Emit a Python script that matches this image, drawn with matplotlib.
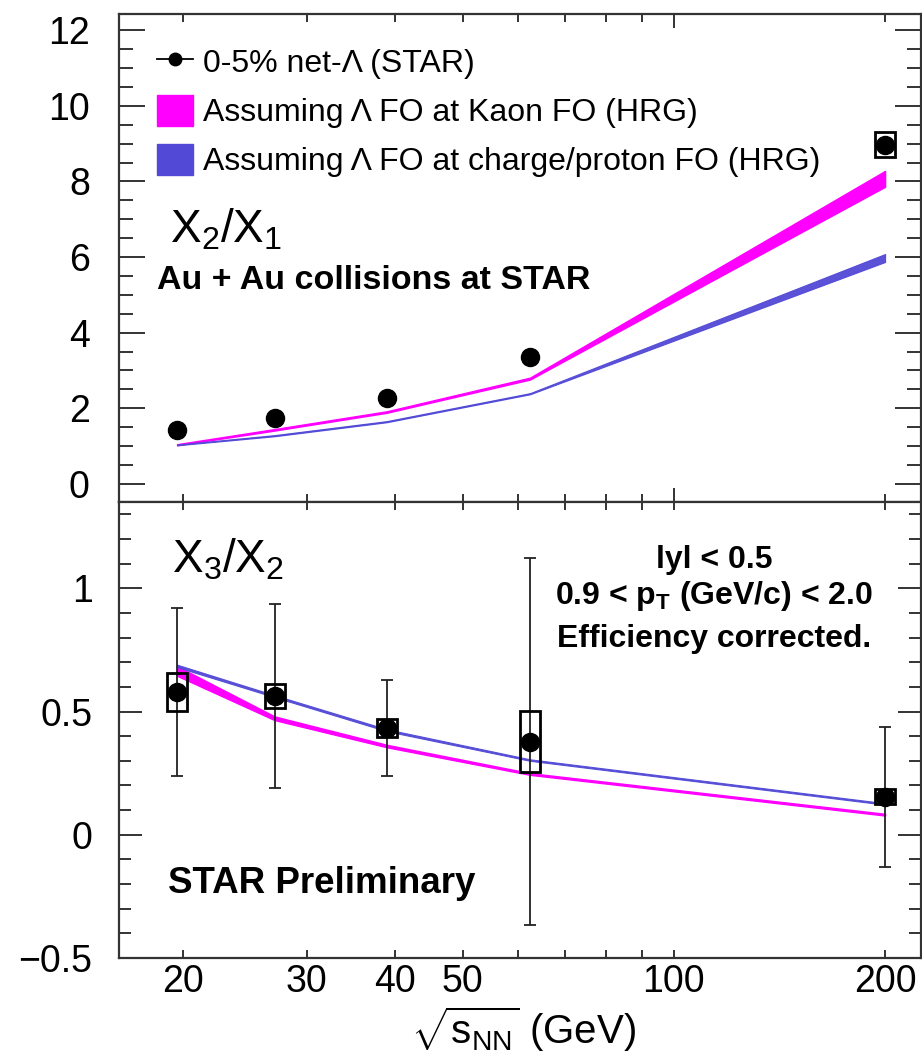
import numpy as np
import matplotlib
matplotlib.use("Agg")
import matplotlib.pyplot as plt
from matplotlib.patches import Rectangle, Patch
from matplotlib.lines import Line2D
from matplotlib.ticker import FixedLocator, FixedFormatter, MultipleLocator

# ---------------- data ----------------
energies = [19.6, 27, 39, 62.4, 200]

# chi2/chi1 (top panel)
c21_val = [1.43, 1.75, 2.28, 3.36, 8.97]
c21_sys = [0.0, 0.0, 0.0, 0.0, 0.33]
c21_kaon_lo = [1.02, 1.41, 1.88, 2.76, 7.86]
c21_kaon_hi = [1.05, 1.45, 1.92, 2.81, 8.28]
c21_prot_lo = [1.02, 1.26, 1.63, 2.37, 5.87]
c21_prot_hi = [1.04, 1.29, 1.66, 2.40, 6.08]

# chi3/chi2 (bottom panel)
c32_val = [0.579, 0.563, 0.433, 0.377, 0.154]
c32_stat = [0.340, 0.372, 0.196, 0.744, 0.283]
c32_sys = [0.077, 0.049, 0.037, 0.124, 0.030]
c32_kaon_lo = [0.645, 0.465, 0.355, 0.243, 0.078]
c32_kaon_hi = [0.684, 0.480, 0.365, 0.250, 0.085]
c32_prot_lo = [0.680, 0.558, 0.420, 0.300, 0.122]
c32_prot_hi = [0.690, 0.566, 0.428, 0.306, 0.128]

xtick_vals = [20, 30, 40, 50, 100, 200]
xtick_labels = ["20", "30", "40", "50", "100", "200"]

legend_labels = ["0-5% net-Λ (STAR)",
                 "Assuming Λ FO at Kaon FO (HRG)",
                 "Assuming Λ FO at charge/proton FO (HRG)"]

# ---------------- style ----------------
FONT = "Liberation Sans"
plt.rcParams["font.family"] = [FONT, "DejaVu Sans"]
plt.rcParams["mathtext.fontset"] = "custom"
plt.rcParams["mathtext.rm"] = FONT
plt.rcParams["mathtext.it"] = FONT + ":italic"
plt.rcParams["mathtext.bf"] = FONT + ":bold"

MAG = "#ff00ff"
BLU = "#5249d6"

W, H = 922, 1063
fig = plt.figure(figsize=(W / 100, H / 100), dpi=100)
L, R = 119 / W, 921 / W
ax1 = fig.add_axes([L, 1 - 502 / H, R - L, (502 - 14) / H])
ax2 = fig.add_axes([L, 1 - 958 / H, R - L, (958 - 502) / H])

xlim = (16.2, 225)
fac = 1.033  # half-width of systematic boxes (multiplicative, log axis)


def draw_panel(ax, val, sys, klo, khi, plo, phi, stat=None):
    ax.fill_between(energies, klo, khi, color=MAG, lw=1.0, edgecolor=MAG, zorder=2)
    ax.fill_between(energies, plo, phi, color=BLU, lw=0.8, edgecolor=BLU, zorder=2, alpha=0.95)
    if stat is not None:
        ax.errorbar(energies, val, yerr=stat, fmt="none", ecolor="#222222",
                    elinewidth=1.3, capsize=4, capthick=1.3, zorder=3)
    for x, y, s in zip(energies, val, sys):
        if s > 0:
            ax.add_patch(Rectangle((x / fac, y - s), x * fac - x / fac, 2 * s,
                                   fill=False, edgecolor="black", lw=2.0, zorder=4))
    ax.plot(energies, val, "o", color="black", ms=13, zorder=5)
    ax.set_xscale("log")
    ax.set_xlim(*xlim)


draw_panel(ax1, c21_val, c21_sys, c21_kaon_lo, c21_kaon_hi, c21_prot_lo, c21_prot_hi)
draw_panel(ax2, c32_val, c32_sys, c32_kaon_lo, c32_kaon_hi, c32_prot_lo, c32_prot_hi, c32_stat)

ax1.set_ylim(-0.48, 12.43)
ax2.set_ylim(-0.5, 1.35)

for ax in (ax1, ax2):
    for sp in ax.spines.values():
        sp.set_linewidth(1.6)
        sp.set_color("#333333")
    ax.xaxis.set_major_locator(FixedLocator(xtick_vals))
    ax.xaxis.set_minor_locator(FixedLocator([60, 70, 80, 90]))
    ax.tick_params(axis="x", which="both", direction="in", top=True, bottom=True,
                   length=6, width=1.4, color="#333333")
    ax.tick_params(axis="y", which="both", direction="in", left=True, right=True,
                   width=1.4, color="#333333")
    idx = xtick_vals.index(100)
    t = ax.xaxis.get_major_ticks()[idx]
    t.tick1line.set_markersize(10)
    t.tick2line.set_markersize(10)

ax1.xaxis.set_major_formatter(FixedFormatter([""] * len(xtick_vals)))
ax1.xaxis.set_minor_formatter(FixedFormatter([]))
ax2.xaxis.set_major_formatter(FixedFormatter(xtick_labels))
ax2.xaxis.set_minor_formatter(FixedFormatter([]))
ax2.tick_params(axis="x", which="major", labelsize=27, pad=4)

ax1.yaxis.set_major_locator(FixedLocator([0, 2, 4, 6, 8, 10, 12]))
ax1.yaxis.set_minor_locator(MultipleLocator(0.5))
ax1.tick_params(axis="y", which="major", length=19, labelsize=27, pad=21)
ax1.tick_params(axis="y", which="minor", length=10)

ax2.yaxis.set_major_locator(FixedLocator([-0.5, 0, 0.5, 1]))
ax2.yaxis.set_major_formatter(FixedFormatter(["\u22120.5", "0", "0.5", "1"]))
ax2.yaxis.set_minor_locator(MultipleLocator(0.1))
ax2.tick_params(axis="y", which="major", length=16.5, labelsize=27, pad=19)
ax2.tick_params(axis="y", which="minor", length=8.5)

# ---------------- legend ----------------
handles = [Line2D([0], [0], color="black", lw=1.3, marker="o", ms=9),
           Patch(facecolor=MAG, edgecolor=MAG),
           Patch(facecolor=BLU, edgecolor=BLU)]
ax1.legend(handles, legend_labels, loc="upper left", bbox_to_anchor=(0.048, 0.935),
           frameon=False, fontsize=23, handlelength=1.1, handleheight=1.1,
           handletextpad=0.31, labelspacing=0.5, borderaxespad=0, borderpad=0)

# ---------------- texts ----------------
ax1.text(0.064, 0.531, r"$\mathregular{Χ_2/Χ_1}$", transform=ax1.transAxes,
         fontsize=33, va="baseline", ha="left")
ax1.text(0.047, 0.436, "Au + Au collisions at STAR", transform=ax1.transAxes,
         fontsize=24.5, fontweight="bold", va="baseline", ha="left")

ax2.text(0.066, 0.846, r"$\mathregular{Χ_3/Χ_2}$", transform=ax2.transAxes,
         fontsize=33, va="baseline", ha="left")
ax2.text(0.742, 0.855, "lyl < 0.5", transform=ax2.transAxes,
         fontsize=23, fontweight="bold", va="baseline", ha="center")
ax2.text(0.742, 0.776, r"0.9 < p$_{\mathbf{T}}$ (GeV/c) < 2.0", transform=ax2.transAxes,
         fontsize=23, fontweight="bold", va="baseline", ha="center")
ax2.text(0.742, 0.682, "Efficiency corrected.", transform=ax2.transAxes,
         fontsize=23, fontweight="bold", va="baseline", ha="center")
ax2.text(0.061, 0.1425, "STAR Preliminary", transform=ax2.transAxes,
         fontsize=26.5, fontweight="bold", va="baseline", ha="left")

fig.text(523 / W, 0.008, r"$\sqrt{\mathregular{s}_{\mathregular{NN}}}$ (GeV)",
         fontsize=29, ha="center", va="bottom")

fig.savefig("out.png", dpi=100)
